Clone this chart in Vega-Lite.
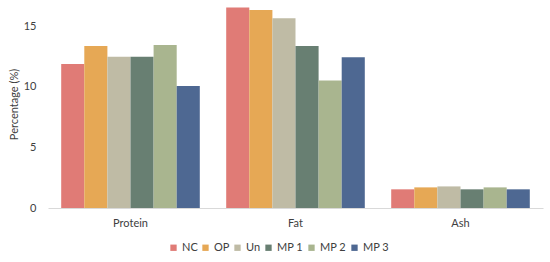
{
  "$schema": "https://vega.github.io/schema/vega-lite/v6.json",
  "width": 495,
  "height": 208,
  "autosize": "none",
  "padding": {"left": 48, "top": 0, "right": 7, "bottom": 54},
  "background": "white",
  "config": {"view": {"stroke": null}, "font": "Lato"},
  "data": {"values": [
    {"cat": "Protein", "group": "NC", "value": 11.87},
    {"cat": "Protein", "group": "OP", "value": 13.35},
    {"cat": "Protein", "group": "Un", "value": 12.47},
    {"cat": "Protein", "group": "MP 1", "value": 12.47},
    {"cat": "Protein", "group": "MP 2", "value": 13.44},
    {"cat": "Protein", "group": "MP 3", "value": 10.06},
    {"cat": "Fat", "group": "NC", "value": 16.53},
    {"cat": "Fat", "group": "OP", "value": 16.32},
    {"cat": "Fat", "group": "Un", "value": 15.64},
    {"cat": "Fat", "group": "MP 1", "value": 13.35},
    {"cat": "Fat", "group": "MP 2", "value": 10.52},
    {"cat": "Fat", "group": "MP 3", "value": 12.42},
    {"cat": "Ash", "group": "NC", "value": 1.54},
    {"cat": "Ash", "group": "OP", "value": 1.7},
    {"cat": "Ash", "group": "Un", "value": 1.78},
    {"cat": "Ash", "group": "MP 1", "value": 1.54},
    {"cat": "Ash", "group": "MP 2", "value": 1.7},
    {"cat": "Ash", "group": "MP 3", "value": 1.54}
  ]},
  "mark": {"type": "bar"},
  "encoding": {
    "x": {
      "field": "cat", "type": "nominal", "sort": ["Protein", "Fat", "Ash"],
      "scale": {"paddingInner": 0.16, "paddingOuter": 0.08},
      "axis": {"title": null, "labelAngle": 0, "ticks": false, "domainColor": "#d9d9d9", "labelColor": "#404040", "labelFontSize": 11, "labelPadding": 9}
    },
    "xOffset": {
      "field": "group", "type": "nominal", "sort": ["NC", "OP", "Un", "MP 1", "MP 2", "MP 3"],
      "scale": {"paddingInner": 0, "paddingOuter": 0}
    },
    "y": {
      "field": "value", "type": "quantitative",
      "scale": {"domain": [0, 17.15], "nice": false},
      "axis": {"title": "Percentage (%)", "values": [0, 5, 10, 15], "grid": false, "domain": false, "ticks": false, "labelColor": "#404040", "labelFontSize": 11, "labelPadding": 12, "titleColor": "#404040", "titleFontSize": 11, "titleFontWeight": "normal", "titlePadding": 4}
    },
    "color": {
      "field": "group", "type": "nominal", "sort": ["NC", "OP", "Un", "MP 1", "MP 2", "MP 3"],
      "scale": {"domain": ["NC", "OP", "Un", "MP 1", "MP 2", "MP 3"], "range": ["#E07B76", "#E6A855", "#BFBBA5", "#687F72", "#A9B58F", "#4E6892"]},
      "legend": {"title": null, "orient": "none", "direction": "horizontal", "legendX": 120, "legendY": 242, "symbolType": "square", "symbolSize": 40, "symbolStrokeWidth": 0, "labelFontSize": 11, "labelColor": "#404040", "columnPadding": 2, "labelOffset": 3}
    }
  }
}
